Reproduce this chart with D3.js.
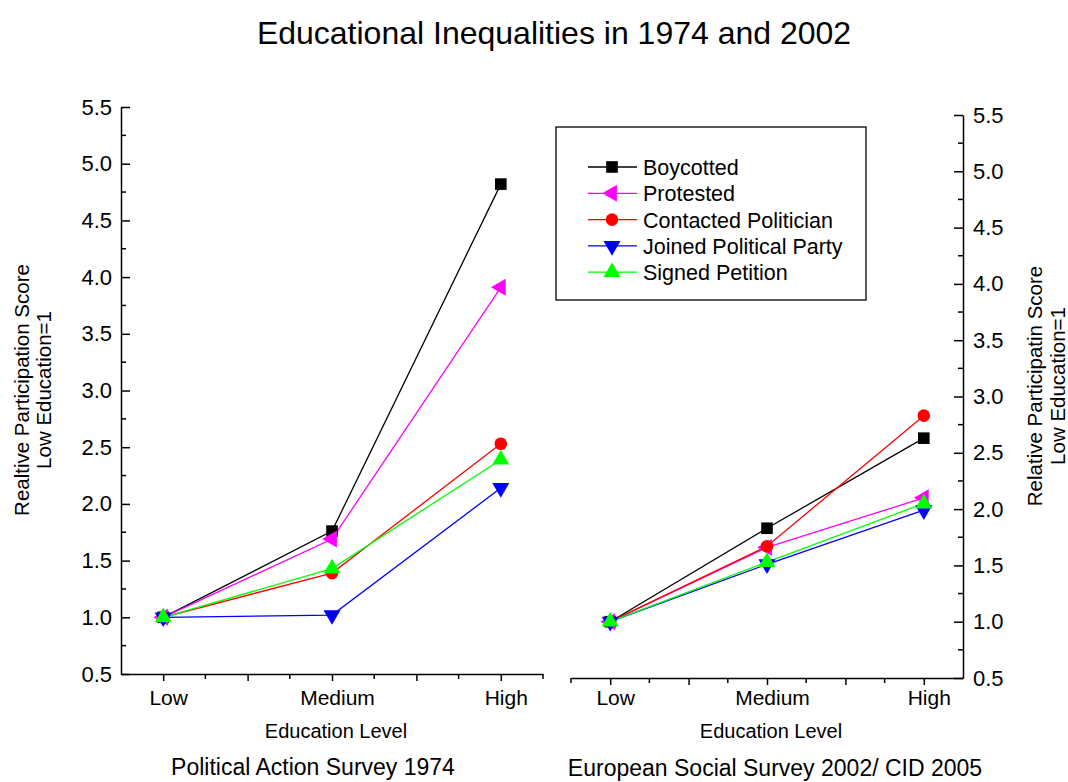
<!DOCTYPE html>
<html>
<head>
<meta charset="utf-8">
<script src="https://cdn.jsdelivr.net/npm/d3@7"></script>
<style>
  body { margin: 0; background: #fff; }
  svg { font-family: "Liberation Sans", Arial, sans-serif; }
</style>
</head>
<body>
<div id="chart"></div>
<script>
// data
var levels = ["Low", "Medium", "High"];
var seriesNames = ["Boycotted", "Protested", "Contacted Politician", "Joined Political Party", "Signed Petition"];
var boycotted1974 = [1.0, 1.76, 4.82];
var protested1974 = [1.0, 1.69, 3.91];
var contacted1974 = [1.0, 1.39, 2.53];
var joined1974 = [1.0, 1.02, 2.14];
var petition1974 = [1.0, 1.43, 2.39];
var boycotted2002 = [1.0, 1.83, 2.63];
var protested2002 = [1.0, 1.66, 2.10];
var contacted2002 = [1.0, 1.67, 2.83];
var joined2002 = [1.0, 1.51, 1.99];
var petition2002 = [1.0, 1.53, 2.05];
var yTicks = [0.5, 1.0, 1.5, 2.0, 2.5, 3.0, 3.5, 4.0, 4.5, 5.0, 5.5];

var colors = ["#000000", "#ff00ff", "#ff0000", "#0000ff", "#00ff00"];
// symbol type + rotation for each series
var shapes = [
  {type: d3.symbolSquare, size: 135, rot: 0},
  {type: d3.symbolTriangle, size: 125, rot: -90},
  {type: d3.symbolCircle, size: 125, rot: 0},
  {type: d3.symbolTriangle, size: 125, rot: 180},
  {type: d3.symbolTriangle, size: 125, rot: 0}
];

var svg = d3.select("#chart").append("svg")
  .attr("width", 1068)
  .attr("height", 782);

svg.append("text")
  .attr("x", 554).attr("y", 44)
  .attr("text-anchor", "middle")
  .style("font-size", "32px")
  .text("Educational Inequalities in 1974 and 2002");

function drawPanel(opts) {
  var x = d3.scaleLinear().domain([0.75, 3.25]).range([opts.x0, opts.x1]);
  var y = d3.scaleLinear().domain([0.5, 5.5]).range([opts.y0, opts.y1]);

  var g = svg.append("g");

  // x axis: majors every 0.5 pointing down, minors every 0.25
  var xAxis = d3.axisBottom(x)
    .tickValues([1, 1.5, 2, 2.5, 3])
    .tickSizeInner(7).tickSizeOuter(0)
    .tickFormat(function(d) { return Number.isInteger(d) ? levels[d - 1] : ""; })
    .tickPadding(opts.xPad);
  var gx = g.append("g").attr("transform", "translate(0," + opts.y0 + ")").call(xAxis);
  gx.selectAll("text").style("font-size", "21px").attr("fill", "#000").attr("dx", 5);
  g.append("g").selectAll("line").data(opts.minorX).join("line")
    .attr("x1", function(d) { return x(d); }).attr("x2", function(d) { return x(d); })
    .attr("y1", opts.y0).attr("y2", opts.y0 + 5)
    .attr("stroke", "#000").attr("stroke-width", 1.5);

  // y axis, ticks pointing inside
  var yAxis = (opts.side === "left" ? d3.axisLeft(y) : d3.axisRight(y))
    .tickValues(yTicks)
    .tickSizeInner(-9).tickSizeOuter(0)
    .tickFormat(d3.format(".1f"))
    .tickPadding(opts.side === "left" ? 9 : 10);
  var ax = opts.side === "left" ? opts.x0 : opts.x1;
  var gy = g.append("g").attr("transform", "translate(" + ax + ",0)").call(yAxis);
  gy.selectAll("text").style("font-size", "22px").attr("fill", "#000");
  var dir = opts.side === "left" ? 1 : -1;
  g.append("g").selectAll("line").data(d3.range(0.75, 5.5, 0.5)).join("line")
    .attr("x1", ax).attr("x2", ax + dir * 5)
    .attr("y1", function(d) { return y(d); }).attr("y2", function(d) { return y(d); })
    .attr("stroke", "#000").attr("stroke-width", 1.5);

  g.selectAll(".domain, .tick line").attr("stroke", "#000").attr("stroke-width", 1.5);

  // lines + markers
  var line = d3.line().x(function(d, i) { return x(i + 1); }).y(function(d) { return y(d); });
  opts.series.forEach(function(vals, k) {
    g.append("path").datum(vals)
      .attr("d", line).attr("fill", "none")
      .attr("stroke", colors[k]).attr("stroke-width", 1.3);
  });
  opts.series.forEach(function(vals, k) {
    var sym = d3.symbol().type(shapes[k].type).size(shapes[k].size);
    g.selectAll(null).data(vals).join("path")
      .attr("d", sym)
      .attr("transform", function(d, i) { return "translate(" + x(i + 1) + "," + y(d) + ") rotate(" + shapes[k].rot + ")"; })
      .attr("fill", colors[k]);
  });

  // titles
  g.append("text")
    .attr("x", (opts.x0 + opts.x1) / 2 + 4).attr("y", 738)
    .attr("text-anchor", "middle").style("font-size", "20px")
    .text("Education Level");
  g.append("text")
    .attr("x", opts.subX).attr("y", opts.subY)
    .attr("text-anchor", "middle").style("font-size", "23px")
    .text(opts.subtitle);

  var ty = g.append("text")
    .attr("transform", "translate(" + opts.titleX + "," + opts.titleY + ") rotate(-90)")
    .attr("text-anchor", "middle").style("font-size", "20.5px");
  ty.append("tspan").attr("x", 0).attr("dy", 0).text(opts.yTitle);
  ty.append("tspan").attr("x", 0).attr("dy", opts.titleGap).text("Low Education=1");
}

drawPanel({
  x0: 121, x1: 543, y0: 674, y1: 107, side: "left", minorX: [1.25, 1.75, 2.25, 2.75, 3.25], xPad: 9,
  series: [boycotted1974, protested1974, contacted1974, joined1974, petition1974],
  subtitle: "Political Action Survey 1974", subX: 313, subY: 775,
  yTitle: "Realtive Participation Score", titleX: 29, titleY: 390, titleGap: 22
});
drawPanel({
  x0: 571, x1: 963, y0: 678, y1: 115, side: "right", minorX: [0.75, 1.25, 1.75, 2.25, 2.75], xPad: 5,
  series: [boycotted2002, protested2002, contacted2002, joined2002, petition2002],
  subtitle: "European Social Survey 2002/ CID 2005", subX: 775, subY: 776,
  yTitle: "Relative Participatin Score", titleX: 1042, titleY: 386, titleGap: 23
});

// legend
var legend = svg.append("g");
legend.append("rect")
  .attr("x", 556).attr("y", 127).attr("width", 310).attr("height", 173)
  .attr("fill", "#fff").attr("stroke", "#000").attr("stroke-width", 1.3);
seriesNames.forEach(function(name, k) {
  var ly = 167 + k * 26.3;
  legend.append("line")
    .attr("x1", 588).attr("x2", 637).attr("y1", ly).attr("y2", ly)
    .attr("stroke", colors[k]).attr("stroke-width", 1.3);
  legend.append("path")
    .attr("d", d3.symbol().type(shapes[k].type).size(shapes[k].size))
    .attr("transform", "translate(612," + ly + ") rotate(" + shapes[k].rot + ")")
    .attr("fill", colors[k]);
  legend.append("text")
    .attr("x", 643).attr("y", ly + 8)
    .style("font-size", "21.5px")
    .text(name);
});
</script>
</body>
</html>
